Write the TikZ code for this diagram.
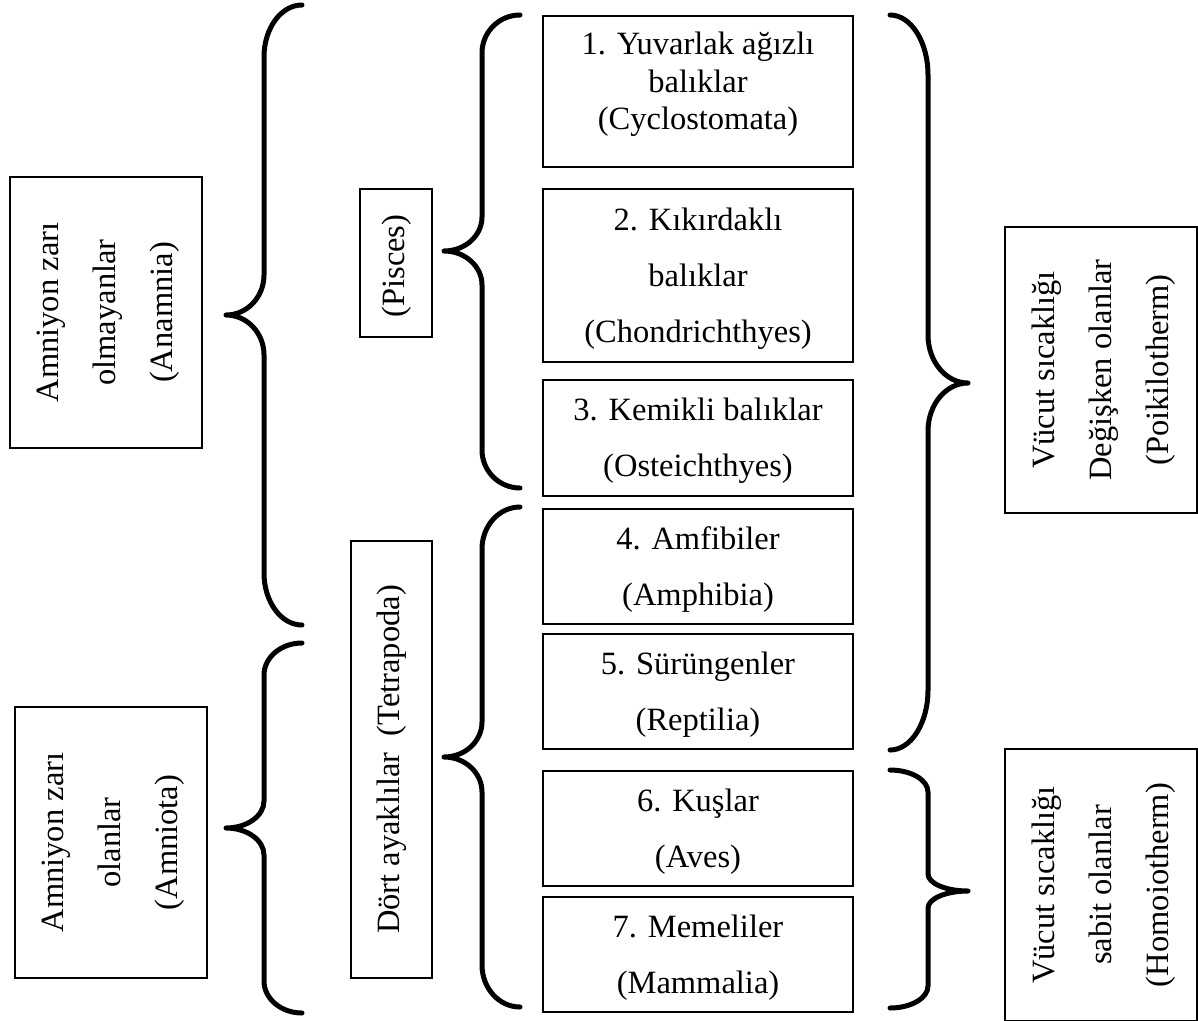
\documentclass[tikz,border=0pt]{standalone}
\usepackage{fontspec}
\setmainfont{Liberation Serif}
\newcommand\drawbrace[8]{%
 \draw[bracestyle] (#1,#4) .. controls ({#1+0.552*(#2-#1)},#4) and (#2,{#4+0.448*#7}) .. (#2,{#4+#7})
 -- (#2,{#5-#8}) .. controls (#2,{#5-0.448*#8}) and ({#3+0.552*(#2-#3)},#5) .. (#3,#5)
 .. controls ({#3+0.552*(#2-#3)},#5) and (#2,{#5+0.448*#8}) .. (#2,{#5+#8})
 -- (#2,{#6-#7}) .. controls (#2,{#6-0.448*#7}) and ({#1+0.552*(#2-#1)},#6) .. (#1,#6);}
\tikzset{
 box/.style={draw, line width=1.6pt, inner sep=0pt},
 bracestyle/.style={line width=5pt, line cap=round, line join=round},
 txt/.style={align=center, inner sep=0pt, font=\fontsize{32.5}{56}\selectfont},
 txttight/.style={align=center, inner sep=0pt, font=\fontsize{32.5}{37.4}\selectfont},
 vtxt/.style={align=center, inner sep=0pt, rotate=90, font=\fontsize{32.5}{57}\selectfont},
}
\begin{document}
\begin{tikzpicture}[x=1pt,y=-1pt]
\useasboundingbox (0,0) rectangle (1198,1020);
% left group boxes
\node[box, minimum width=192pt, minimum height=271pt] (anam) at (106,312.5) {};
\node[vtxt] (anamT) at ([xshift=2pt]anam.center) {Amniyon zarı\\olmayanlar\\(Anamnia)};
\node[box, minimum width=192pt, minimum height=271pt] (amni) at (111,842.5) {};
\node[vtxt] (amniT) at ([xshift=2pt]amni.center) {Amniyon zarı\\olanlar\\(Amniota)};
\node[box, minimum width=72pt, minimum height=148pt] (pisc) at (396,263) {};
\node[vtxt] (piscT) at ([xshift=1pt,yshift=-3pt]pisc.center) {(Pisces)};
\node[box, minimum width=81pt, minimum height=437pt] (tetr) at (391.5,759.5) {};
\node[vtxt] (tetrT) at (tetr.center) {Dört ayaklılar~ (Tetrapoda)};
% class boxes
\node[box, minimum width=310pt, minimum height=151pt] (b1) at (698,91.5) {};
\node[txttight] (t1) at ([yshift=7pt]b1.center) {1. Yuvarlak ağızlı\\balıklar\\(Cyclostomata)};
\node[box, minimum width=310pt, minimum height=173pt] (b2) at (698,275.5) {};
\node[txt] (t2) at ([yshift=-3pt]b2.center) {2. Kıkırdaklı\\balıklar\\(Chondrichthyes)};
\node[box, minimum width=310pt, minimum height=116pt] (b3) at (698,438) {};
\node[txt] (t3) at ([yshift=-3pt]b3.center) {3. Kemikli balıklar\\(Osteichthyes)};
\node[box, minimum width=310pt, minimum height=115pt] (b4) at (698,566.5) {};
\node[txt] (t4) at ([yshift=-3pt]b4.center) {4. Amfibiler\\(Amphibia)};
\node[box, minimum width=310pt, minimum height=115pt] (b5) at (698,691.5) {};
\node[txt] (t5) at ([yshift=-3pt]b5.center) {5. Sürüngenler\\(Reptilia)};
\node[box, minimum width=310pt, minimum height=115pt] (b6) at (698,828.5) {};
\node[txt] (t6) at ([yshift=-3pt]b6.center) {6. Kuşlar\\(Aves)};
\node[box, minimum width=310pt, minimum height=115pt] (b7) at (698,954.5) {};
\node[txt] (t7) at ([yshift=-3pt]b7.center) {7. Memeliler\\(Mammalia)};
% right boxes
\node[box, minimum width=192pt, minimum height=286pt] (poik) at (1101,370) {};
\node[vtxt] (poikT) at ([xshift=3pt]poik.center) {Vücut sıcaklığı\\Değişken olanlar\\(Poikilotherm)};
\node[box, minimum width=192pt, minimum height=272pt] (homo) at (1101,885) {};
\node[vtxt] (homoT) at ([xshift=3pt]homo.center) {Vücut sıcaklığı\\sabit olanlar\\(Homoiotherm)};
% braces
\drawbrace{302}{264}{226}{5}{315}{625}{52}{40}
\drawbrace{302}{264}{226}{643}{828}{1013}{32}{27}
\drawbrace{520}{482}{444}{15}{251}{488}{38}{34}
\drawbrace{520}{482}{444}{507}{757}{1007}{42}{35}
\drawbrace{890}{928}{968}{15}{383}{750}{60}{48}
\drawbrace{890}{928}{968}{770}{891}{1008}{22}{17}
\end{tikzpicture}
\end{document}
